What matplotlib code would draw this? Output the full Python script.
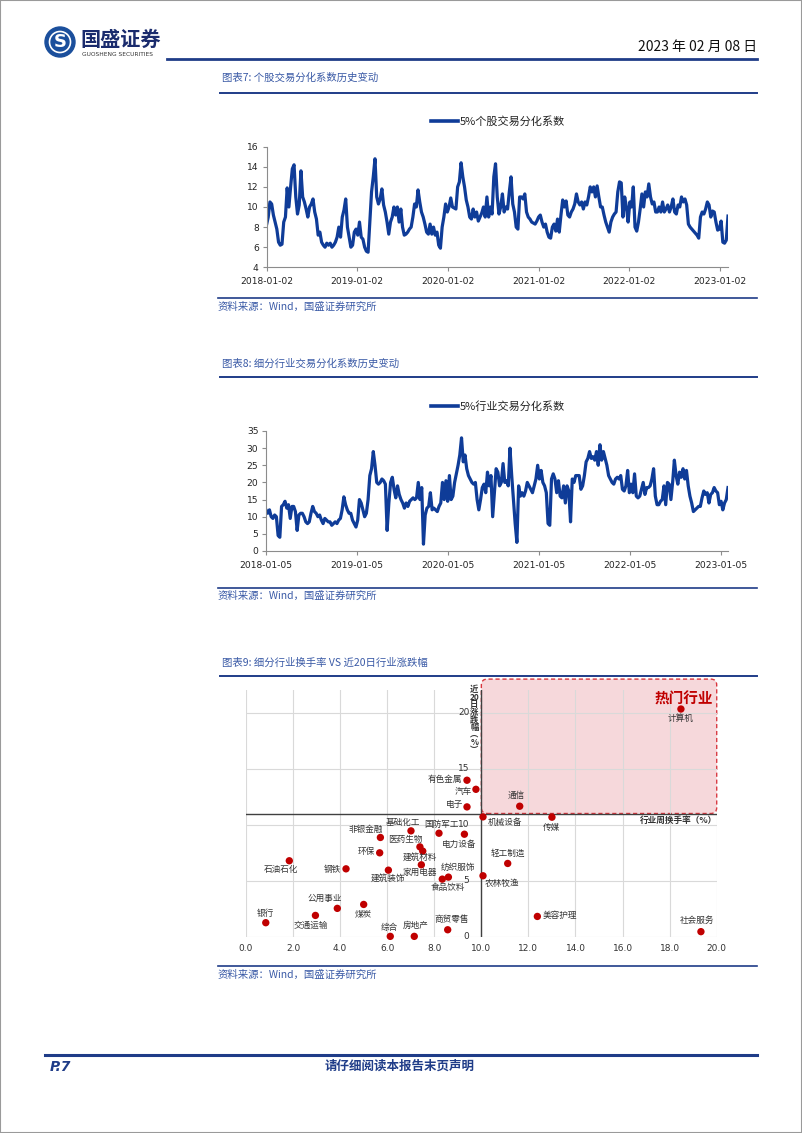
import numpy as np
import pandas as pd
import matplotlib
matplotlib.use("Agg")
import matplotlib.pyplot as plt
from matplotlib.lines import Line2D
from matplotlib.patches import FancyBboxPatch, Ellipse, Rectangle

CJK = ["Noto Sans CJK SC", "DejaVu Sans"]
plt.rcParams["font.family"] = CJK
plt.rcParams["axes.unicode_minus"] = False

# ── data: figure 7, 5% stock dispersion (read roughly weekly off the chart) ──
stock_start, stock_end = "2018-01-02", "2023-02-03"
stock_vals = [
    8.2, 9.0, 10.5, 10.3, 9.2, 8.5, 7.8, 6.5, 6.2, 6.3,
    8.5, 9.0, 11.9, 10.0, 12.0, 13.8, 14.2, 11.0, 9.3, 10.2,
    13.6, 11.0, 10.5, 9.8, 9.0, 10.0, 10.3, 10.8, 9.5, 8.8,
    7.2, 7.5, 6.5, 6.2, 6.0, 6.4, 6.2, 6.4, 6.0, 6.2,
    6.5, 7.0, 8.0, 7.0, 9.0, 9.7, 10.8, 8.0, 7.0, 6.0,
    6.2, 7.5, 7.8, 7.2, 8.5, 7.0, 6.8, 6.0, 5.6, 5.5,
    8.5, 11.5, 13.0, 14.8, 11.0, 10.3, 10.8, 11.8, 10.2, 9.5,
    8.5, 7.3, 8.5, 9.0, 10.0, 9.2, 10.0, 8.5, 9.8, 8.0,
    7.2, 7.3, 7.5, 7.8, 8.0, 9.0, 10.3, 10.0, 11.7, 10.5,
    9.5, 9.0, 8.3, 7.5, 7.3, 8.3, 7.3, 8.0, 7.2, 7.5,
    6.2, 5.9, 8.0, 9.0, 10.3, 9.5, 10.0, 10.9, 10.0, 9.9,
    9.8, 12.0, 12.5, 14.4, 13.0, 12.0, 10.7, 10.0, 9.0, 8.8,
    9.8, 9.0, 9.5, 8.6, 9.0, 9.4, 10.0, 9.0, 11.0, 9.0,
    10.0, 9.3, 13.0, 14.3, 11.0, 9.3, 10.0, 11.3, 9.5, 10.0,
    9.8, 11.5, 13.0, 10.3, 9.5, 8.0, 7.8, 11.0, 11.0, 10.8,
    11.3, 9.5, 9.0, 8.8, 8.5, 8.4, 8.3, 8.6, 9.0, 9.2,
    8.5, 8.0, 8.3, 7.5, 7.0, 6.9, 8.0, 8.3, 7.6, 8.8,
    7.5, 9.2, 10.7, 10.0, 10.6, 9.2, 9.0, 9.5, 9.8, 10.3,
    11.3, 10.5, 10.2, 10.5, 9.8, 10.5, 10.2, 11.0, 12.0, 11.5,
    12.0, 11.0, 12.1, 11.0, 10.0, 10.0, 9.2, 8.5, 8.0, 7.5,
    8.5, 9.0, 9.3, 9.5, 11.5, 12.5, 12.4, 9.0, 11.0, 10.0,
    8.5, 10.5, 10.0, 12.0, 8.0, 7.6, 8.5, 9.8, 11.3, 10.0,
    11.5, 11.0, 12.3, 11.0, 10.3, 10.5, 9.5, 9.5, 10.0, 9.5,
    10.5, 9.5, 9.8, 10.2, 9.5, 10.0, 10.8, 9.5, 9.3, 10.2,
    10.0, 11.0, 10.5, 10.8, 10.2, 8.3, 8.0, 7.8, 7.6, 7.4,
    7.2, 6.9, 9.0, 9.5, 9.3, 9.8, 10.5, 10.2, 9.0, 9.6,
    9.5, 8.5, 7.7, 7.8, 8.6, 6.5, 6.4, 6.7, 9.1,
]
stock_ticks = ["2018-01-02", "2019-01-02", "2020-01-02", "2021-01-02",
               "2022-01-02", "2023-01-02"]
stock_yticks = [4, 6, 8, 10, 12, 14, 16]

# ── data: figure 8, 5% industry dispersion ──
ind_start, ind_end = "2018-01-05", "2023-02-03"
ind_vals = [
    12.0, 11.0, 12.0, 10.0, 9.5, 10.5, 10.0, 4.5, 4.0, 13.0,
    13.5, 14.5, 12.5, 13.5, 9.5, 13.0, 13.0, 11.5, 6.0, 10.5,
    11.0, 11.0, 10.0, 8.5, 8.0, 8.5, 11.0, 13.0, 11.5, 11.0,
    10.0, 10.5, 9.0, 8.0, 9.5, 9.0, 8.5, 8.5, 7.5, 8.0,
    8.5, 8.0, 9.0, 9.5, 12.0, 15.8, 13.5, 12.0, 11.0, 11.0,
    9.0, 8.0, 7.0, 9.0, 15.0, 14.0, 12.0, 10.0, 11.0, 15.0,
    22.0, 24.0, 29.0, 25.0, 20.0, 19.5, 20.0, 21.0, 20.5, 19.5,
    6.0, 14.0, 20.0, 21.5, 18.0, 15.5, 19.0, 16.5, 15.0, 14.0,
    12.5, 14.0, 13.0, 14.5, 15.0, 15.5, 15.0, 15.5, 20.0, 15.0,
    18.5, 2.0, 10.5, 12.5, 13.0, 17.0, 12.0, 12.5, 12.0, 11.5,
    13.0, 14.0, 20.0, 15.0, 20.5, 14.5, 22.0, 15.0, 16.0, 20.0,
    22.5, 25.0, 28.0, 33.0, 26.0, 28.0, 24.0, 22.0, 21.0, 20.0,
    19.5, 20.0, 15.0, 12.0, 15.0, 18.5, 19.5, 17.0, 23.0, 19.0,
    22.0, 10.0, 17.0, 24.0, 23.0, 19.0, 20.0, 25.5, 20.0, 20.5,
    19.0, 30.0, 22.0, 15.0, 8.0, 2.5, 19.0, 16.0, 17.0, 16.0,
    17.5, 20.0, 19.0, 18.0, 17.0, 19.0, 21.0, 25.0, 21.0, 23.5,
    20.0, 19.0, 17.0, 8.0, 7.5, 21.0, 22.5, 21.0, 17.0, 20.5,
    16.0, 15.5, 19.0, 14.0, 19.0, 17.5, 8.5, 21.0, 20.0, 22.0,
    22.0, 22.0, 18.0, 19.0, 22.0, 26.0, 27.0, 29.0, 27.0, 27.5,
    26.5, 29.0, 25.0, 31.0, 26.5, 29.0, 27.0, 25.0, 22.0, 21.0,
    20.0, 19.5, 21.0, 21.5, 21.0, 22.0, 18.0, 17.5, 19.0, 23.5,
    17.0, 19.5, 17.0, 22.5, 16.0, 15.5, 16.0, 18.0, 20.0, 16.5,
    18.5, 18.5, 19.0, 21.0, 24.0, 16.0, 13.5, 13.5, 14.5, 15.0,
    19.0, 13.5, 20.0, 19.5, 15.0, 20.0, 26.5, 22.0, 19.5, 23.0,
    21.5, 24.0, 21.0, 23.5, 19.0, 16.0, 14.0, 11.5, 12.0, 12.5,
    13.0, 13.0, 15.5, 17.5, 16.5, 17.0, 14.0, 16.5, 17.0, 18.5,
    17.5, 17.0, 13.5, 14.5, 12.0, 14.0, 15.0, 18.5,
]
ind_ticks = ["2018-01-05", "2019-01-05", "2020-01-05", "2021-01-05",
             "2022-01-05", "2023-01-05"]
ind_yticks = [0, 5, 10, 15, 20, 25, 30, 35]

# ── data: figure 9, turnover vs 20d return by industry ──
sectors = ["计算机", "有色金属", "汽车", "电子", "通信", "机械设备", "传媒",
           "基础化工", "国防军工", "电力设备", "非银金融", "医药生物", "建筑材料",
           "家用电器", "环保", "石油石化", "钢铁", "建筑装饰", "纺织服饰",
           "食品饮料", "农林牧渔", "轻工制造", "公用事业", "煤炭", "交通运输",
           "银行", "综合", "房地产", "商贸零售", "美容护理", "社会服务"]
turnover = [18.48, 9.39, 9.77, 9.39, 11.63, 10.07, 13.0, 7.01, 8.2, 9.28,
            5.71, 7.39, 7.51, 7.45, 5.68, 1.84, 4.25, 6.05, 8.6, 8.34,
            10.07, 11.12, 3.88, 5.0, 2.95, 0.84, 6.13, 7.15, 8.57, 12.38, 19.33]
ret20 = [20.33, 13.97, 13.16, 11.59, 11.65, 10.70, 10.67, 9.45, 9.24, 9.15,
         8.86, 8.02, 7.64, 6.42, 7.49, 6.78, 6.06, 5.94, 5.32, 5.14,
         5.44, 6.54, 2.53, 2.88, 1.90, 1.25, 0.03, 0.03, 0.62, 1.81, 0.45]
# label offsets from the dot, in pixels (dx, dy)
label_offsets = [(0, -9), (-22, 1), (-13, -2), (-12, 2), (-3, 11), (22, -6),
                 (0, -10), (-8, 8), (3, 9), (-5, -10), (-15, 8), (-15, 7),
                 (-3, -6), (-2, -8), (-13, 1), (-8, -9), (-14, -1), (0, -8),
                 (10, 10), (6, -8), (19, -8), (0, 10), (-13, 10), (0, -10),
                 (-5, -10), (0, 9), (-1, 9), (1, 11), (4, 10), (23, 1), (-4, 11)]
sc_xticks = np.arange(0, 21, 2)
sc_yticks = [0, 5, 10, 15, 20]

# ── page layout helpers (pixel coordinates of the 802x1133 page) ──
W, H = 802, 1133
NAVY = "#1f3c88"
LINE_BLUE = "#0f3c98"
TXT_BLUE = "#3a5aa6"
RED = "#c00000"

fig = plt.figure(figsize=(W / 100, H / 100), dpi=100)


def fx(x):
    return x / W


def fy(y):
    return 1 - y / H


def hline(x1, x2, y, color=NAVY, lw=1.5):
    fig.add_artist(Line2D([fx(x1), fx(x2)], [fy(y), fy(y)], color=color,
                          lw=lw, transform=fig.transFigure))


def ftext(x, y, s, **kw):
    kw.setdefault("va", "center")
    fig.text(fx(x), fy(y), s, **kw)


def ax_at(left, top, right, bottom):
    return fig.add_axes([fx(left), fy(bottom), (right - left) / W,
                         (bottom - top) / H])


def ts_panel(ax, dates, vals, ticks, yticks):
    ax.plot(dates, vals, color=LINE_BLUE, lw=2.3, solid_joinstyle="round")
    ax.set_xlim(dates[0], dates[-1])
    ax.set_ylim(yticks[0], yticks[-1])
    ax.set_yticks(yticks)
    ax.set_xticks(pd.to_datetime(ticks))
    ax.set_xticklabels(ticks)
    for s in ["top", "right"]:
        ax.spines[s].set_visible(False)
    for s in ["left", "bottom"]:
        ax.spines[s].set_color("#8c8c8c")
        ax.spines[s].set_linewidth(0.8)
    ax.tick_params(labelsize=6.6, length=3, width=0.8, color="#8c8c8c",
                   pad=2.5, labelcolor="#222222")
    ax.tick_params(axis="x", pad=4)
    for lab in ax.get_xticklabels() + ax.get_yticklabels():
        lab.set_family("DejaVu Sans")


def legend_entry(y, label):
    fig.add_artist(Line2D([fx(431), fx(458)], [fy(y), fy(y)], color=LINE_BLUE,
                          lw=2.6, transform=fig.transFigure))
    ftext(460, y, label, fontsize=8, color="#222222")


# ── page frame, header ──
fig.add_artist(Rectangle((0, 0), 1, 1, transform=fig.transFigure, fill=False,
                         edgecolor="#9a9a9a", lw=1.5))
fig.add_artist(Ellipse((fx(60), fy(42)), 30 / W, 30 / H, color="#1b4f9c",
                       transform=fig.transFigure))
fig.add_artist(Ellipse((fx(60), fy(42)), 21 / W, 21 / H, fill=False,
                       edgecolor="white", lw=1.2, transform=fig.transFigure))
ftext(60, 42, "S", fontsize=13, weight="bold", color="white", ha="center",
      family="DejaVu Sans")
ftext(80, 39, "国盛证券", fontsize=14.5, weight="bold", color="#1a2b6d")
ftext(82, 54, "GUOSHENG SECURITIES", fontsize=4.2, color="#333333",
      family="DejaVu Sans")
ftext(757, 47, "2023 年 02 月 08 日", fontsize=10, color="#111111", ha="right")
hline(167, 757, 59, lw=2.0)

# ── figure 7 ──
ftext(222, 78, "图表7: 个股交易分化系数历史变动", fontsize=7.5, color=TXT_BLUE,
      style="italic")
hline(220, 757, 93, lw=1.4)
legend_entry(121, "5%个股交易分化系数")
ax1 = ax_at(266.5, 146.7, 728, 267.3)
d1 = pd.date_range(stock_start, stock_end, periods=len(stock_vals))
ts_panel(ax1, d1, stock_vals, stock_ticks, stock_yticks)
hline(218, 757, 298, lw=1.2)
ftext(218, 307, "资料来源：Wind，国盛证券研究所", fontsize=7.5, color=TXT_BLUE,
      style="italic")

# ── figure 8 ──
ftext(222, 364, "图表8: 细分行业交易分化系数历史变动", fontsize=7.5,
      color=TXT_BLUE, style="italic")
hline(220, 757, 377, lw=1.4)
legend_entry(406, "5%行业交易分化系数")
ax2 = ax_at(266, 431, 728, 551)
d2 = pd.date_range(ind_start, ind_end, periods=len(ind_vals))
ts_panel(ax2, d2, ind_vals, ind_ticks, ind_yticks)
hline(218, 757, 588, lw=1.2)
ftext(218, 596, "资料来源：Wind，国盛证券研究所", fontsize=7.5, color=TXT_BLUE,
      style="italic")

# ── figure 9 ──
ftext(222, 663, "图表9: 细分行业换手率 VS 近20日行业涨跌幅", fontsize=7.5,
      color=TXT_BLUE, style="italic")
hline(220, 757, 676, lw=1.4)
ax3 = ax_at(246, 690.3, 716.7, 936.7)
ax3.set_xlim(0, 20)
ax3.set_ylim(0, 22)
ax3.set_xticks(sc_xticks)
ax3.set_xticklabels([f"{v:.1f}" for v in sc_xticks])
ax3.set_yticks(sc_yticks)
ax3.tick_params(axis="both", length=0)
ax3.tick_params(axis="x", labelsize=6.5, pad=5, labelcolor="#333333")
ax3.tick_params(axis="y", labelleft=False)
for lab in ax3.get_xticklabels():
    lab.set_family("DejaVu Sans")
for s in ax3.spines.values():
    s.set_visible(False)
ax3.grid(color="#d9d9d9", lw=0.8)
ax3.set_axisbelow(True)

hot = FancyBboxPatch((10, 11), 10, 12,
                     boxstyle="round,pad=0,rounding_size=0.25",
                     mutation_aspect=2.1, facecolor="#f6d8db",
                     edgecolor="#d9363e", lw=1.0, ls=(0, (3, 2)),
                     clip_on=False, zorder=0.3)
ax3.add_patch(hot)
ax3.axhline(11, color="#404040", lw=1.0, zorder=2)
ax3.axvline(10, color="#404040", lw=1.0, zorder=2)

for v in sc_yticks:
    ax3.annotate(str(v), xy=(10, v), xytext=(-12, 0), textcoords="offset pixels",
                 ha="right", va="center", fontsize=6.5, color="#333333",
                 family="DejaVu Sans", annotation_clip=False)

ax3.scatter(turnover, ret20, s=28, color=RED, zorder=3, clip_on=False,
            edgecolors="none")
for name, x, y, (dx, dy) in zip(sectors, turnover, ret20, label_offsets):
    ax3.annotate(name, xy=(x, y), xytext=(dx, dy), textcoords="offset pixels",
                 ha="center", va="center", fontsize=6.2, color="#333333",
                 zorder=4, annotation_clip=False)

ax3.annotate("近\n20\n日\n涨\n跌\n幅\n︵\n%\n︶", xy=(10, 22), xytext=(-7, 5),
             textcoords="offset pixels", ha="center", va="top", fontsize=6,
             linespacing=0.78, weight="bold", color="#333333",
             annotation_clip=False)
ax3.annotate("行业周换手率（%）", xy=(20, 11), xytext=(0, -7),
             textcoords="offset pixels", ha="right", va="center", fontsize=6.2,
             weight="bold", color="#333333", annotation_clip=False)
ax3.annotate("热门行业", xy=(20, 21.3), xytext=(-4, 0),
             textcoords="offset pixels", ha="right", va="center",
             fontsize=10.5, weight="bold", color=RED, annotation_clip=False)

hline(218, 757, 966, lw=1.2)
ftext(218, 975, "资料来源：Wind，国盛证券研究所", fontsize=7.5, color=TXT_BLUE,
      style="italic")

# ── footer ──
hline(45, 757, 1055, lw=2.2)
ftext(50, 1067, "P.7", fontsize=10, weight="bold", style="italic", color=NAVY,
      family="DejaVu Sans")
ftext(400, 1066, "请仔细阅读本报告末页声明", fontsize=9, weight="bold",
      color=NAVY, ha="center")

fig.savefig("out.png", dpi=100)
plt.close(fig)
